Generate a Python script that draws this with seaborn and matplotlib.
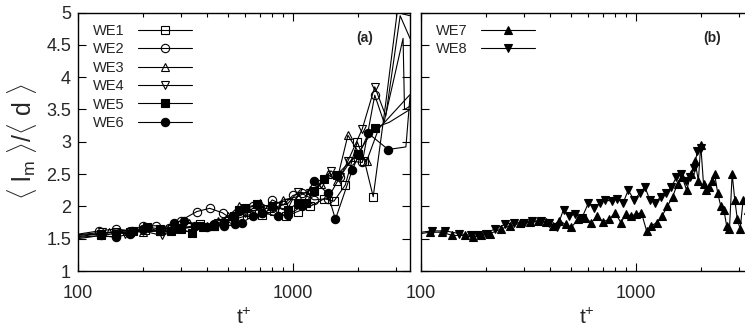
import numpy as np
import pandas as pd
import matplotlib
matplotlib.use("Agg")
import matplotlib.pyplot as plt
import seaborn as sns
from matplotlib.ticker import FixedLocator, NullFormatter, FixedFormatter

# ---------------- data ----------------
we1_t = [100, 128, 150, 175, 205, 240, 275, 320, 370, 430, 500, 560, 640, 720, 820, 930, 1050, 1200, 1400, 1550, 1750, 1990, 2150, 2360, 2700, 3050, 3500]
we1_v = [1.55, 1.58, 1.60, 1.60, 1.63, 1.62, 1.65, 1.68, 1.72, 1.70, 1.78, 1.82, 1.88, 1.86, 1.93, 1.85, 1.92, 2.00, 2.12, 2.08, 2.33, 3.00, 2.70, 2.15, 3.60, 5.00, 4.95]

we2_t = [100, 125, 150, 178, 200, 230, 265, 300, 357, 410, 470, 520, 560, 650, 720, 800, 900, 1000, 1100, 1250, 1450, 1650, 1850, 2100, 2400, 2650, 3250, 3300, 3500]
we2_v = [1.57, 1.62, 1.65, 1.62, 1.70, 1.70, 1.66, 1.78, 1.92, 1.97, 1.90, 1.80, 1.93, 2.00, 1.90, 2.10, 2.02, 2.17, 2.20, 2.10, 2.12, 2.45, 2.70, 2.68, 3.72, 3.30, 4.60, 3.50, 3.55]

we3_t = [100, 140, 170, 200, 240, 280, 330, 400, 450, 500, 560, 620, 700, 780, 900, 1050, 1200, 1350, 1450, 1600, 1800, 2050, 2200, 2500, 3500]
we3_v = [1.53, 1.60, 1.62, 1.60, 1.62, 1.70, 1.75, 1.70, 1.78, 1.85, 2.00, 1.92, 2.05, 1.98, 2.10, 2.15, 2.25, 2.35, 2.50, 2.40, 3.10, 2.80, 2.70, 3.20, 3.73]

we4_t = [100, 130, 165, 200, 245, 300, 370, 450, 520, 600, 700, 850, 950, 1050, 1200, 1350, 1500, 1650, 1800, 2100, 2400, 2700, 3150, 3500]
we4_v = [1.56, 1.60, 1.58, 1.62, 1.55, 1.65, 1.70, 1.75, 1.80, 1.90, 1.95, 2.00, 2.05, 2.22, 2.20, 2.35, 2.55, 2.45, 2.70, 3.20, 3.85, 3.40, 4.95, 4.60]

we5_t = [100, 128, 150, 180, 210, 240, 270, 300, 340, 380, 430, 480, 530, 560, 600, 680, 800, 950, 1050, 1150, 1250, 1400, 1600, 2000, 2400, 2800, 3500]
we5_v = [1.52, 1.55, 1.58, 1.62, 1.68, 1.65, 1.62, 1.65, 1.59, 1.68, 1.70, 1.75, 1.85, 1.95, 1.98, 2.03, 2.00, 1.95, 2.05, 2.05, 2.24, 2.43, 2.49, 2.81, 3.22, 3.30, 3.50]

we6_t = [100, 128, 150, 175, 200, 240, 280, 310, 350, 400, 430, 480, 540, 580, 650, 720, 850, 950, 1100, 1250, 1450, 1575, 1890, 2240, 2770, 3350, 3500]
we6_v = [1.50, 1.55, 1.52, 1.58, 1.65, 1.63, 1.75, 1.78, 1.70, 1.68, 1.72, 1.70, 1.72, 1.75, 1.85, 1.90, 1.85, 1.87, 2.00, 2.40, 2.20, 1.80, 2.57, 3.13, 2.88, 2.92, 3.70]

we7_t = [100, 110, 125, 140, 160, 175, 190, 210, 235, 260, 290, 320, 350, 380, 410, 440, 470, 500, 540, 580, 620, 660, 700, 750, 800, 850, 900, 950, 1000, 1060, 1120, 1180, 1250, 1320, 1400, 1480, 1560, 1640, 1720, 1800, 1880, 1950, 2000, 2060, 2120, 2180, 2250, 2320, 2400, 2480, 2560, 2640, 2720, 2800, 2880, 2960, 3050, 3150, 3300]
we7_v = [1.58, 1.60, 1.60, 1.55, 1.55, 1.52, 1.55, 1.58, 1.65, 1.70, 1.74, 1.76, 1.77, 1.76, 1.70, 1.78, 1.72, 1.68, 1.80, 1.82, 1.75, 1.85, 1.76, 1.80, 1.90, 1.75, 1.88, 1.85, 1.88, 1.90, 1.62, 1.70, 1.75, 1.85, 2.00, 2.15, 2.35, 2.45, 2.25, 2.50, 2.70, 2.40, 2.95, 2.35, 2.25, 2.30, 2.40, 2.50, 2.20, 2.00, 1.95, 1.70, 1.65, 2.50, 2.10, 1.80, 1.65, 2.10, 1.95]

we8_t = [100, 112, 130, 150, 170, 185, 200, 220, 245, 270, 300, 330, 360, 395, 430, 460, 490, 520, 560, 600, 640, 680, 720, 770, 820, 870, 920, 980, 1040, 1100, 1160, 1230, 1300, 1380, 1460, 1540, 1620, 1700, 1780, 1860, 1930, 2000]
we8_v = [1.60, 1.62, 1.62, 1.58, 1.55, 1.56, 1.58, 1.65, 1.72, 1.75, 1.74, 1.77, 1.77, 1.74, 1.68, 1.95, 1.85, 1.88, 1.82, 2.05, 1.98, 2.05, 2.10, 2.08, 2.12, 2.05, 2.25, 2.10, 2.20, 2.30, 2.10, 2.05, 2.15, 2.20, 2.30, 2.45, 2.50, 2.40, 2.45, 2.60, 2.85, 2.90]

x_ticks = [100, 1000]
x_ticklabels = ["100", "1000"]
y_ticks = [1, 1.5, 2, 2.5, 3, 3.5, 4, 4.5, 5]
y_ticklabels = ["1", "1.5", "2", "2.5", "3", "3.5", "4", "4.5", "5"]

# ---------------- style ----------------
sns.set_theme(style="ticks")
plt.rcParams["font.family"] = ["Liberation Sans", "DejaVu Sans"]
plt.rcParams["mathtext.fontset"] = "custom"
plt.rcParams["mathtext.rm"] = "Liberation Sans"
plt.rcParams["mathtext.it"] = "Liberation Sans"
plt.rcParams["axes.linewidth"] = 1.0

fig = plt.figure(figsize=(7.45, 3.31), dpi=100)
W, H = 745.0, 331.0
ax_a = fig.add_axes([78 / W, 60 / H, 332 / W, 258.5 / H])
ax_b = fig.add_axes([421 / W, 60 / H, 332 / W, 258.5 / H])

def draw(ax, t, v, name, marker, filled, mevery):
    df = pd.DataFrame({"t": t, "v": v})
    sns.lineplot(data=df, x="t", y="v", ax=ax, estimator=None, sort=False,
                 color="black", linewidth=0.8, marker=marker, markersize=6,
                 markerfacecolor=("black" if filled else "none"),
                 markeredgecolor="black", markeredgewidth=0.8,
                 markevery=mevery, label=name, legend=False)

draw(ax_a, we1_t, we1_v, "WE1", "s", False, slice(1, -3))
draw(ax_a, we2_t, we2_v, "WE2", "o", False, slice(1, -4))
draw(ax_a, we3_t, we3_v, "WE3", "^", False, slice(1, -2))
draw(ax_a, we4_t, we4_v, "WE4", "v", False, slice(1, -3))
draw(ax_a, we5_t, we5_v, "WE5", "s", True, slice(1, -2))
draw(ax_a, we6_t, we6_v, "WE6", "o", True, slice(1, -2))

draw(ax_b, we7_t, we7_v, "WE7", "^", True, slice(1, None))
draw(ax_b, we8_t, we8_v, "WE8", "v", True, slice(1, None))

for ax in (ax_a, ax_b):
    ax.set_xscale("log")
    ax.set_xlim(100, 3500)
    ax.set_ylim(1, 5)
    ax.xaxis.set_major_locator(FixedLocator(x_ticks))
    ax.xaxis.set_major_formatter(FixedFormatter(x_ticklabels))
    ax.xaxis.set_minor_locator(FixedLocator([200, 300, 400, 500, 600, 700, 800, 900, 2000, 3000]))
    ax.xaxis.set_minor_formatter(NullFormatter())
    ax.set_yticks(y_ticks)
    ax.set_yticklabels(y_ticklabels)
    ax.tick_params(which="both", direction="in", top=True, right=True,
                   labelsize=13, width=0.8, color="black", pad=5)
    ax.tick_params(axis="x", which="both", pad=10)
    ax.tick_params(which="major", length=6)
    ax.tick_params(which="minor", length=3)
    ax.set_xlabel(r"t$^{+}$", fontsize=15, labelpad=4)
    ax.set_ylabel("")
    for s in ax.spines.values():
        s.set_color("black")
        s.set_linewidth(1.0)
    ax.set_facecolor("white")

ax_b.tick_params(labelleft=False)
ax_a.set_ylabel(r"$\langle$ l$_\mathrm{m}$ $\rangle$/$\langle$ d $\rangle$", fontsize=18, labelpad=5)

ax_a.text(0.865, 0.9, "(a)", transform=ax_a.transAxes, fontsize=10, fontweight="bold", ha="center", va="center")
ax_b.text(0.877, 0.9, "(b)", transform=ax_b.transAxes, fontsize=10, fontweight="bold", ha="center", va="center")

for ax in (ax_a, ax_b):
    ax.legend(loc="upper left", frameon=False, markerfirst=False, fontsize=10.5,
              handlelength=3.7, handletextpad=0.9, labelspacing=0.3,
              borderaxespad=0.3, bbox_to_anchor=(0.015, 0.995), numpoints=1)

fig.patch.set_facecolor("white")
fig.savefig("out.png", dpi=100, facecolor="white")
